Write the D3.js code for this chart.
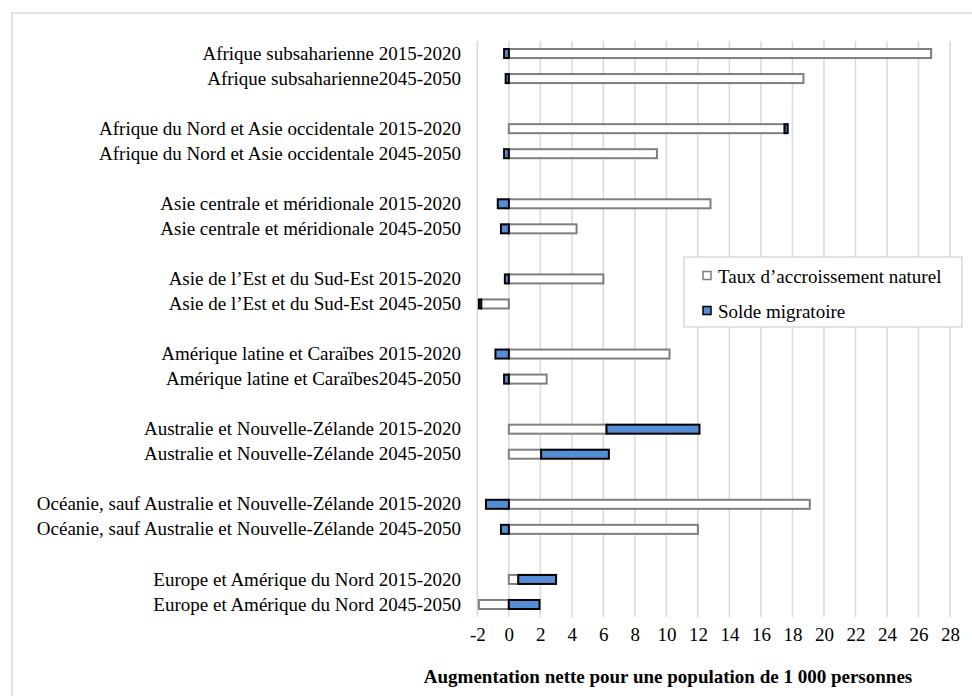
<!DOCTYPE html>
<html><head><meta charset="utf-8">
<script src="https://cdn.jsdelivr.net/npm/d3@7"></script>
<style>
body{margin:0;background:#fff;}
svg{display:block;font-family:"Liberation Serif","Times New Roman",serif;}
</style></head>
<body>
<svg id="c" width="972" height="696"></svg>
<script>
const categories = [
  "Afrique subsaharienne 2015-2020",
  "Afrique subsaharienne2045-2050",
  "",
  "Afrique du Nord et Asie occidentale 2015-2020",
  "Afrique du Nord et Asie occidentale 2045-2050",
  "",
  "Asie centrale et méridionale 2015-2020",
  "Asie centrale et méridionale 2045-2050",
  "",
  "Asie de l’Est et du Sud-Est 2015-2020",
  "Asie de l’Est et du Sud-Est 2045-2050",
  "",
  "Amérique latine et Caraïbes 2015-2020",
  "Amérique latine et Caraïbes2045-2050",
  "",
  "Australie et Nouvelle-Zélande  2015-2020",
  "Australie et Nouvelle-Zélande 2045-2050",
  "",
  "Océanie, sauf Australie et Nouvelle-Zélande 2015-2020",
  "Océanie, sauf Australie et Nouvelle-Zélande 2045-2050",
  "",
  "Europe et Amérique du Nord 2015-2020",
  "Europe et Amérique du Nord 2045-2050"
];
const natural = [26.8, 18.7, null, 17.5, 9.4, null, 12.8, 4.3, null, 6.0, -1.75, null, 10.2, 2.4, null, 6.2, 2.05, null, 19.1, 12.0, null, 0.6, -1.9];
const migration = [-0.3, -0.2, null, 0.2, -0.3, null, -0.7, -0.5, null, -0.25, -0.15, null, -0.85, -0.3, null, 5.9, 4.3, null, -1.45, -0.5, null, 2.4, 1.95];
const seriesNames = ["Taux d’accroissement naturel", "Solde migratoire"];
const xTicks = [-2,0,2,4,6,8,10,12,14,16,18,20,22,24,26,28];
const axisTitle = "Augmentation nette pour une population de 1 000 personnes";

const FONT = "'Liberation Serif','Times New Roman',serif";
const svg = d3.select("#c");
// outer chart border
svg.append("rect").attr("x",12).attr("y",13).attr("width",990).attr("height",720)
  .attr("fill","#fff").attr("stroke","#d9d9d9").attr("stroke-width",1.5);

const keys = categories.map((c,i)=>"r"+i);
const x = d3.scaleLinear().domain([-2,28]).range([477.3,950]);
const y = d3.scaleBand().domain(keys).range([41,617]).paddingInner(0.64).paddingOuter(0.32);

// gridlines
svg.append("g").selectAll("line").data(xTicks).join("line")
  .attr("x1",d=>x(d)).attr("x2",d=>x(d)).attr("y1",41).attr("y2",617)
  .attr("stroke","#d9d9d9").attr("stroke-width",1.5);

// stacked data
const rows = keys.map((k,i)=>({key:k, nat: natural[i]==null?0:natural[i], mig: migration[i]==null?0:migration[i]}));
const stack = d3.stack().keys(["nat","mig"]).offset(d3.stackOffsetDiverging);
const stacked = stack(rows);
const fills = ["#ffffff","#558ed5"];
const strokes = ["#7f7f7f","#000000"];

svg.append("g").selectAll("g").data(stacked).join("g")
  .attr("fill",(d,i)=>fills[i]).attr("stroke",(d,i)=>strokes[i]).attr("stroke-width",2)
  .selectAll("rect").data(d=>d.filter(p=>p[1]!==p[0])).join("rect")
  .attr("x",p=>x(Math.min(p[0],p[1])))
  .attr("width",p=>Math.abs(x(p[1])-x(p[0])))
  .attr("y",p=>y(p.data.key))
  .attr("height",y.bandwidth());

// category labels (y axis)
const yAxis = d3.axisLeft(y).tickSize(0).tickPadding(0).tickFormat((k,i)=>categories[i]);
const gy = svg.append("g").attr("transform","translate(461,0)").call(yAxis);
gy.select(".domain").remove();
gy.selectAll("text").attr("font-size",19).attr("fill","#000").attr("font-family",FONT);

// x axis
const xAxis = d3.axisBottom(x).tickValues(xTicks).tickSize(0).tickPadding(11)
  .tickFormat(d=>String(d));
const gx = svg.append("g").attr("transform","translate(0,617)").call(xAxis);
gx.select(".domain").remove();
gx.selectAll("text").attr("font-size",19).attr("fill","#000").attr("font-family",FONT);

// axis title
svg.append("text").attr("x",668).attr("y",683).attr("text-anchor","middle")
  .attr("font-size",19).attr("font-weight","bold").attr("font-family",FONT).text(axisTitle);

// legend
const lg = svg.append("g");
lg.append("rect").attr("x",684).attr("y",257).attr("width",278).attr("height",70)
  .attr("fill","#fff").attr("stroke","#d9d9d9").attr("stroke-width",1.5);
const ly = [276, 311];
seriesNames.forEach((n,i)=>{
  lg.append("rect").attr("x",703).attr("y",ly[i]-4.5).attr("width",8).attr("height",8)
    .attr("fill",fills[i]).attr("stroke",strokes[i]).attr("stroke-width",1.5);
  lg.append("text").attr("x",718).attr("y",ly[i]).attr("dy","0.35em")
    .attr("font-size",19).attr("font-family",FONT).text(n);
});
</script>
</body></html>
